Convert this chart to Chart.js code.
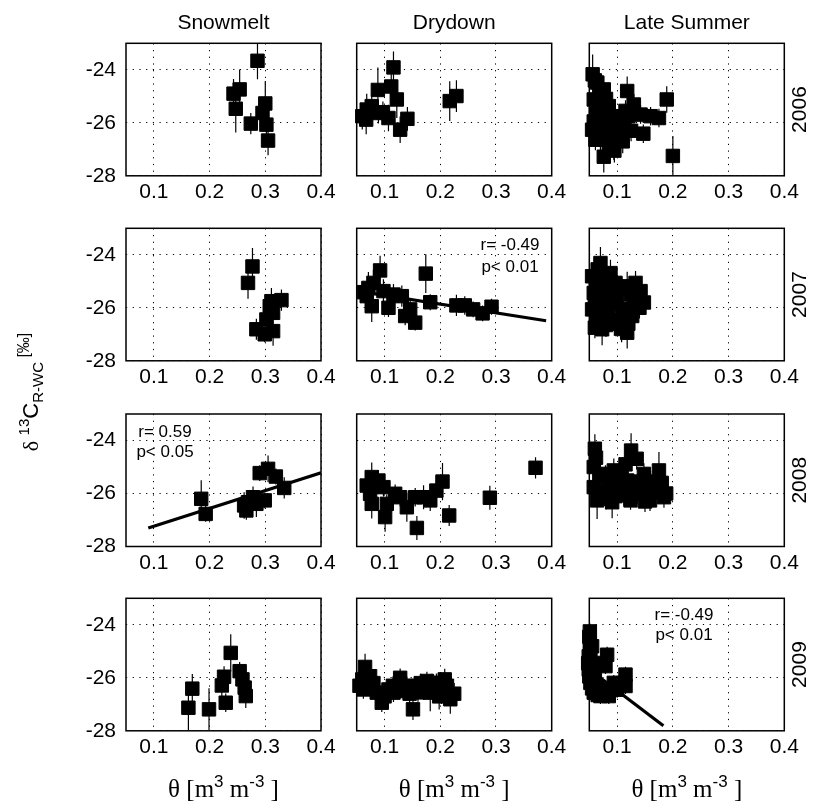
<!DOCTYPE html>
<html><head><meta charset="utf-8">
<script src="https://cdn.jsdelivr.net/npm/chart.js@4.4.0/dist/chart.umd.min.js"></script>
<style>
html,body{margin:0;padding:0;background:#fff;}
#wrap{position:relative;width:814px;height:806px;overflow:hidden;background:#fff;}
#wrap canvas{position:absolute;left:0;top:0;}
</style></head><body><div id="wrap"></div>
<script>
// ---------- tick labels / categories ----------
const xTickVals = [0.1, 0.2, 0.3, 0.4];
const yTickVals = [-28, -26, -24];
const seasons = ['Snowmelt', 'Drydown', 'Late Summer'];
const years = ['2006', '2007', '2008', '2009'];

// ---------- 2006 ----------
const sm06_x = [0.286, 0.243, 0.254, 0.247, 0.274, 0.300, 0.295, 0.302, 0.305];
const sm06_y = [-23.66, -24.90, -24.74, -25.47, -26.03, -25.27, -25.63, -26.07, -26.67];
const sm06_e = [0.70, 0.55, 0.75, 0.90, 0.40, 0.85, 0.50, 0.40, 0.55];

const dd06_x = [0.116, 0.112, 0.088, 0.122, 0.068, 0.077, 0.067, 0.089, 0.107, 0.128, 0.141, 0.217, 0.229, 0.060, 0.097];
const dd06_y = [-23.91, -24.63, -24.76, -25.12, -25.50, -25.37, -25.88, -25.63, -25.82, -26.26, -25.85, -25.18, -24.99, -25.75, -25.60];
const dd06_e = [0.60, 0.50, 0.85, 0.70, 0.60, 0.45, 0.55, 0.40, 0.50, 0.50, 0.45, 0.75, 0.60, 0.50, 0.40];

const ls06_x = [0.056, 0.064, 0.076, 0.058, 0.055, 0.067, 0.070, 0.076, 0.094, 0.103, 0.112, 0.094, 0.118, 0.130, 0.142, 0.147, 0.160, 0.175, 0.189, 0.200, 0.085, 0.082, 0.061, 0.072,
                0.060, 0.070, 0.080, 0.062, 0.075, 0.058, 0.085, 0.065, 0.078, 0.090, 0.100, 0.105, 0.115, 0.120, 0.110, 0.095, 0.085, 0.125];
const ls06_y = [-24.17, -24.48, -24.74, -25.12, -26.26, -25.63, -26.64, -27.28, -26.90, -26.51, -26.13, -25.75, -24.80, -25.31, -25.69, -26.41, -25.75, -25.82, -25.12, -27.25, -25.37, -26.13, -26.64, -25.90,
                -24.40, -24.95, -25.10, -25.45, -25.85, -25.95, -26.05, -26.30, -26.50, -26.60, -26.20, -25.95, -25.55, -25.75, -26.70, -27.05, -27.00, -26.30];
const ls06_e = [0.75, 0.50, 0.50, 0.45, 0.50, 0.45, 0.50, 0.60, 0.50, 0.45, 0.40, 0.40, 0.55, 0.40, 0.35, 0.35, 0.35, 0.35, 0.50, 0.75, 0.40, 0.50, 0.40, 0.40,
                0.40, 0.40, 0.40, 0.40, 0.40, 0.40, 0.40, 0.40, 0.40, 0.40, 0.40, 0.40, 0.40, 0.40, 0.45, 0.45, 0.50, 0.40];

// ---------- 2007 ----------
const sm07_x = [0.277, 0.269, 0.311, 0.329, 0.314, 0.302, 0.284, 0.299, 0.314, 0.308];
const sm07_y = [-24.44, -25.06, -25.75, -25.71, -26.19, -26.44, -26.81, -27.00, -26.88, -25.94];
const sm07_e = [0.70, 0.60, 0.50, 0.40, 0.40, 0.45, 0.40, 0.30, 0.55, 0.40];

const dd07_x = [0.092, 0.174, 0.182, 0.071, 0.080, 0.068, 0.077, 0.098, 0.107, 0.116, 0.131, 0.137, 0.146, 0.155, 0.229, 0.244, 0.259, 0.276, 0.292, 0.063];
const dd07_y = [-24.59, -24.71, -25.79, -25.25, -25.06, -25.56, -25.94, -25.37, -26.00, -25.50, -25.56, -26.31, -26.06, -26.56, -25.91, -25.91, -26.06, -26.21, -25.96, -25.41];
const dd07_e = [0.55, 0.73, 0.30, 0.60, 0.50, 0.40, 0.60, 0.45, 0.35, 0.40, 0.40, 0.35, 0.35, 0.30, 0.40, 0.35, 0.30, 0.30, 0.30, 0.40];
const dd07_fitX = [0.06, 0.39];
const dd07_fitY = [-25.40, -26.49];
const dd07_note = ['r= -0.49', 'p< 0.01'];

const ls07_x = [0.070, 0.055, 0.088, 0.058, 0.055, 0.064, 0.073, 0.082, 0.088, 0.097, 0.118, 0.133, 0.139, 0.142, 0.118, 0.115, 0.103, 0.127, 0.076, 0.060,
                0.065, 0.080, 0.062, 0.072, 0.090, 0.068, 0.085, 0.098, 0.100, 0.108, 0.125, 0.130, 0.140, 0.110, 0.120, 0.095, 0.080, 0.065, 0.108, 0.060, 0.148];
const ls07_y = [-24.31, -24.81, -24.69, -25.44, -26.06, -26.56, -26.81, -26.31, -25.56, -25.06, -25.19, -25.06, -25.69, -25.37, -26.94, -26.19, -26.44, -26.31, -25.81, -25.90,
                -24.55, -24.90, -25.10, -25.30, -25.30, -25.70, -25.90, -25.45, -25.75, -25.30, -25.50, -25.85, -26.00, -26.05, -26.60, -26.60, -26.65, -26.25, -26.80, -26.75, -25.80];
const ls07_e = [0.60, 0.50, 0.50, 0.50, 0.50, 0.50, 0.60, 0.50, 0.40, 0.45, 0.55, 0.45, 0.40, 0.40, 0.60, 0.40, 0.45, 0.40, 0.45, 0.40,
                0.40, 0.40, 0.40, 0.40, 0.40, 0.40, 0.40, 0.40, 0.40, 0.40, 0.40, 0.40, 0.40, 0.40, 0.45, 0.45, 0.45, 0.40, 0.50, 0.40, 0.35];

// ---------- 2008 ----------
const sm08_x = [0.185, 0.193, 0.266, 0.269, 0.278, 0.284, 0.299, 0.290, 0.305, 0.319, 0.334, 0.262];
const sm08_y = [-26.20, -26.77, -26.64, -26.33, -26.14, -26.39, -26.26, -25.23, -25.07, -25.36, -25.79, -26.45];
const sm08_e = [0.70, 0.30, 0.35, 0.45, 0.40, 0.50, 0.30, 0.30, 0.50, 0.30, 0.40, 0.50];
const sm08_fitX = [0.09, 0.40];
const sm08_fitY = [-27.30, -25.22];
const sm08_note = ['r= 0.59', 'p< 0.05'];

const dd08_x = [0.371, 0.289, 0.216, 0.158, 0.204, 0.193, 0.182, 0.170, 0.155, 0.140, 0.128, 0.119, 0.101, 0.104, 0.077, 0.068, 0.077, 0.089, 0.098, 0.074];
const dd08_y = [-25.03, -26.16, -26.83, -27.30, -25.55, -25.89, -26.26, -26.14, -26.14, -26.52, -26.14, -26.01, -26.89, -26.39, -26.39, -25.70, -25.38, -25.51, -25.76, -26.01];
const dd08_e = [0.40, 0.45, 0.40, 0.45, 0.70, 0.55, 0.40, 0.45, 0.35, 0.55, 0.35, 0.35, 0.55, 0.35, 0.55, 0.40, 0.55, 0.40, 0.35, 0.40];

const ls08_x = [0.060, 0.058, 0.058, 0.064, 0.091, 0.079, 0.094, 0.103, 0.125, 0.135, 0.118, 0.136, 0.148, 0.159, 0.175, 0.184, 0.172, 0.124, 0.070,
                0.062, 0.068, 0.075, 0.080, 0.085, 0.100, 0.108, 0.112, 0.128, 0.140, 0.150, 0.160, 0.165, 0.150, 0.180, 0.188, 0.097, 0.115];
const ls08_y = [-24.31, -25.00, -25.76, -26.26, -26.33, -25.38, -25.13, -25.76, -24.38, -24.69, -25.51, -26.01, -25.26, -26.26, -25.13, -26.14, -25.64, -26.26, -25.26,
                -24.65, -25.40, -25.95, -26.20, -25.65, -25.40, -25.20, -26.05, -25.85, -25.55, -25.90, -25.55, -25.95, -26.30, -25.60, -26.00, -26.10, -24.90];
const ls08_e = [0.55, 0.45, 0.45, 0.70, 0.60, 0.45, 0.45, 0.40, 0.65, 0.40, 0.40, 0.40, 0.40, 0.40, 0.70, 0.40, 0.40, 0.35, 0.40,
                0.40, 0.40, 0.40, 0.40, 0.40, 0.40, 0.40, 0.40, 0.40, 0.40, 0.40, 0.40, 0.40, 0.40, 0.40, 0.40, 0.40, 0.40];

// ---------- 2009 ----------
const sm09_x = [0.162, 0.169, 0.199, 0.222, 0.226, 0.229, 0.238, 0.254, 0.259, 0.263, 0.265];
const sm09_y = [-27.13, -26.41, -27.19, -26.29, -25.96, -26.94, -25.06, -25.75, -26.06, -26.37, -26.69];
const sm09_e = [0.90, 0.55, 0.80, 0.45, 0.40, 0.35, 0.70, 0.35, 0.40, 0.40, 0.45];

const dd09_x = [0.065, 0.060, 0.074, 0.062, 0.086, 0.095, 0.107, 0.128, 0.134, 0.151, 0.155, 0.170, 0.182, 0.193, 0.202, 0.208, 0.218, 0.176, 0.116, 0.055,
                0.080, 0.100, 0.115, 0.140, 0.145, 0.160, 0.165, 0.188, 0.198, 0.212, 0.225, 0.185];
const dd09_y = [-25.59, -26.06, -25.94, -26.44, -26.56, -26.94, -26.44, -26.00, -26.50, -27.19, -26.31, -26.44, -26.56, -26.19, -26.44, -26.06, -26.81, -26.12, -26.56, -26.30,
                -26.20, -26.70, -26.30, -26.30, -26.60, -26.55, -26.20, -26.40, -26.70, -26.30, -26.60, -26.20];
const dd09_e = [0.50, 0.40, 0.35, 0.35, 0.35, 0.35, 0.35, 0.35, 0.35, 0.40, 0.35, 0.40, 0.70, 0.35, 0.55, 0.40, 0.55, 0.35, 0.35, 0.35,
                0.35, 0.35, 0.35, 0.35, 0.35, 0.35, 0.35, 0.50, 0.50, 0.35, 0.40, 0.35];

const ls09_x = [0.051, 0.051, 0.049, 0.049, 0.052, 0.058, 0.064, 0.070, 0.085, 0.082, 0.079, 0.061, 0.094, 0.115, 0.115, 0.055,
                0.050, 0.052, 0.048, 0.050, 0.055, 0.060, 0.075, 0.100, 0.110, 0.065];
const ls09_y = [-24.25, -24.69, -25.19, -25.69, -26.19, -26.56, -26.31, -26.69, -26.69, -25.13, -25.56, -25.44, -26.19, -25.88, -26.31, -24.81,
                -24.45, -24.95, -25.45, -25.95, -26.40, -25.90, -26.45, -26.45, -26.20, -26.65];
const ls09_e = [0.30, 0.30, 0.30, 0.30, 0.30, 0.30, 0.30, 0.30, 0.30, 0.30, 0.30, 0.30, 0.30, 0.30, 0.30, 0.30,
                0.30, 0.30, 0.30, 0.30, 0.30, 0.30, 0.30, 0.30, 0.30, 0.30];
const ls09_fitX = [0.05, 0.183];
const ls09_fitY = [-25.69, -27.81];
const ls09_note = ['r= -0.49', 'p< 0.01'];

const panels = [
  [{x: sm06_x, y: sm06_y, e: sm06_e}, {x: dd06_x, y: dd06_y, e: dd06_e}, {x: ls06_x, y: ls06_y, e: ls06_e}],
  [{x: sm07_x, y: sm07_y, e: sm07_e}, {x: dd07_x, y: dd07_y, e: dd07_e, fx: dd07_fitX, fy: dd07_fitY, note: dd07_note}, {x: ls07_x, y: ls07_y, e: ls07_e}],
  [{x: sm08_x, y: sm08_y, e: sm08_e, fx: sm08_fitX, fy: sm08_fitY, note: sm08_note}, {x: dd08_x, y: dd08_y, e: dd08_e}, {x: ls08_x, y: ls08_y, e: ls08_e}],
  [{x: sm09_x, y: sm09_y, e: sm09_e}, {x: dd09_x, y: dd09_y, e: dd09_e}, {x: ls09_x, y: ls09_y, e: ls09_e, fx: ls09_fitX, fy: ls09_fitY, note: ls09_note}]
];

// ---------- layout ----------
const PAGE_W = 814, PAGE_H = 806;
const PW = 195, PH = 132.5, YW = 80, XH = 36;
const colLeft = [126, 356.7, 589.3];
const rowTop = [43.3, 228.3, 414, 598.3];
const notePos = {'1,1': {x: 510, y: [245, 267]}, '2,0': {x: 165, y: [432, 452]}, '3,2': {x: 684, y: [615, 635]}};
const SANS = "'Liberation Sans', Arial, Helvetica, sans-serif";
const SERIF = "'Liberation Serif', 'Times New Roman', serif";

function drawRich(ctx, parts, cx, by) {
  let total = 0;
  parts.forEach(p => { ctx.font = p.font; p.w = ctx.measureText(p.t).width; total += p.w; });
  let x = cx - total / 2;
  ctx.textAlign = 'left'; ctx.textBaseline = 'alphabetic';
  parts.forEach(p => { ctx.font = p.font; ctx.fillText(p.t, x, by + p.dy); x += p.w; });
}

const decor = {
  id: 'decor',
  afterDraw(chart, args, o) {
    const ctx = chart.ctx, a = chart.chartArea;
    const cx = (a.left + a.right) / 2, cy = (a.top + a.bottom) / 2;
    ctx.save();
    ctx.strokeStyle = '#000'; ctx.lineWidth = 1.5;
    ctx.strokeRect(a.left, a.top, a.right - a.left, a.bottom - a.top);
    ctx.fillStyle = '#000';
    if (o.title) {
      ctx.font = '21px ' + SANS; ctx.textAlign = 'center'; ctx.textBaseline = 'middle';
      ctx.fillText(o.title, cx, 23);
    }
    if (o.year) {
      ctx.save(); ctx.translate(800, cy); ctx.rotate(-Math.PI / 2);
      ctx.font = '21px ' + SANS; ctx.textAlign = 'center'; ctx.textBaseline = 'middle';
      ctx.fillText(o.year, 0, 0); ctx.restore();
    }
    if (o.note) {
      ctx.font = '17px ' + SANS; ctx.textAlign = 'center'; ctx.textBaseline = 'middle';
      ctx.fillText(o.note[0], o.noteX, o.noteY[0]);
      ctx.fillText(o.note[1], o.noteX, o.noteY[1]);
    }
    if (o.xlabel) {
      drawRich(ctx, [
        {t: '\u03B8 [m', font: '25px ' + SERIF, dy: 0},
        {t: '3', font: '17px ' + SANS, dy: -10},
        {t: ' m', font: '25px ' + SERIF, dy: 0},
        {t: '-3', font: '17px ' + SANS, dy: -10},
        {t: ' ]', font: '25px ' + SERIF, dy: 0}
      ], cx, 797);
    }
    if (o.ylabel) {
      ctx.save(); ctx.translate(38, 392); ctx.rotate(-Math.PI / 2);
      drawRich(ctx, [
        {t: '\u03B4 ', font: '22px ' + SERIF, dy: 0},
        {t: '13', font: '15px ' + SANS, dy: -9},
        {t: 'C', font: '22px ' + SANS, dy: 0},
        {t: 'R-WC', font: '15px ' + SANS, dy: 5},
        {t: ' [\u2030]', font: '16px ' + SANS, dy: -9}
      ], 0, 0);
      ctx.restore();
    }
    ctx.restore();
  }
};

const wrap = document.getElementById('wrap');

function build(r, c) {
  const p = panels[r][c];
  const L = colLeft[c], T = rowTop[r];
  const cv = document.createElement('canvas');
  cv.width = PAGE_W; cv.height = PAGE_H;
  wrap.appendChild(cv);

  const pts = p.x.map((v, i) => ({x: v, y: p.y[i]}));
  const err = [];
  p.x.forEach((v, i) => {
    err.push({x: v, y: p.y[i] - p.e[i]});
    err.push({x: v, y: p.y[i] + p.e[i]});
    err.push({x: v, y: null});
  });
  const datasets = [
    {data: err, showLine: true, spanGaps: false, borderColor: '#000', borderWidth: 1.2, pointRadius: 0, fill: false},
    {data: pts, showLine: false, pointStyle: 'rect', pointRadius: 9.5, backgroundColor: '#000', borderColor: '#000', borderWidth: 1, clip: false}
  ];
  if (p.fx) {
    datasets.push({data: p.fx.map((v, i) => ({x: v, y: p.fy[i]})), showLine: true, borderColor: '#000', borderWidth: 3.2, pointRadius: 0, fill: false});
  }
  const np = notePos[r + ',' + c];
  const gridCommon = {color: '#000', lineWidth: 1, drawTicks: false};
  new Chart(cv, {
    type: 'scatter',
    data: {datasets},
    options: {
      responsive: false, animation: false, devicePixelRatio: 1, events: [],
      layout: {padding: {left: L - YW, top: T, right: PAGE_W - L - PW, bottom: PAGE_H - T - PH - XH}},
      plugins: {
        legend: {display: false}, tooltip: {enabled: false},
        decor: {
          title: r === 0 ? seasons[c] : null,
          year: c === 2 ? years[r] : null,
          note: p.note || null, noteX: np ? np.x : 0, noteY: np ? np.y : null,
          xlabel: r === 3, ylabel: r === 1 && c === 0
        }
      },
      scales: {
        x: {
          type: 'linear', min: 0.05, max: 0.4,
          afterFit: s => { s.height = XH; },
          afterBuildTicks: s => { s.ticks = xTickVals.map(v => ({value: v})); },
          ticks: {color: '#000', font: {family: SANS, size: 21}, padding: 4, maxRotation: 0, callback: v => v.toFixed(1)},
          grid: gridCommon,
          border: {display: false, dash: [1.2, 5.5]}
        },
        y: {
          type: 'linear', min: -28, max: -23,
          afterFit: s => { s.width = YW; },
          afterBuildTicks: s => { s.ticks = yTickVals.map(v => ({value: v})); },
          ticks: {display: c === 0, color: '#000', font: {family: SANS, size: 21}, padding: 10, callback: v => String(v)},
          grid: gridCommon,
          border: {display: false, dash: [1.2, 5.5]}
        }
      }
    },
    plugins: [decor]
  });
}

for (let r = 0; r < 4; r++) for (let c = 0; c < 3; c++) build(r, c);
</script>
</body></html>
